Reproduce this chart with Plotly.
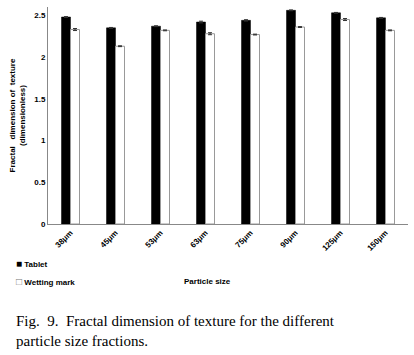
import plotly.graph_objects as go

categories = ["38μm", "45μm", "53μm", "63μm", "75μm", "90μm", "125μm", "150μm"]
tablet = [2.48, 2.35, 2.37, 2.42, 2.44, 2.56, 2.53, 2.47]
tablet_err = [0.005, 0.005, 0.005, 0.01, 0.008, 0.005, 0.005, 0.005]
wetting = [2.33, 2.13, 2.32, 2.28, 2.27, 2.36, 2.45, 2.32]
wetting_err = [0.012, 0.005, 0.005, 0.012, 0.005, 0.005, 0.012, 0.005]

sans = "Arial, Liberation Sans, sans-serif"

fig = go.Figure()
fig.add_trace(go.Bar(
    x=categories, y=tablet, name="Tablet", showlegend=False,
    marker=dict(color="black", line=dict(color="black", width=0.5)),
    error_y=dict(type="data", array=tablet_err, color="#333", thickness=1, width=2),
))
fig.add_trace(go.Bar(
    x=categories, y=wetting, name="Wetting mark", showlegend=False,
    marker=dict(color="white", line=dict(color="#999999", width=1)),
    error_y=dict(type="data", array=wetting_err, color="#333", thickness=1, width=2),
))

fig.update_layout(
    width=414, height=355,
    margin=dict(l=48, r=6, t=7, b=131, autoexpand=False),
    paper_bgcolor="white", plot_bgcolor="white",
    barmode="group", bargap=0.6, bargroupgap=0,
    font=dict(family=sans, size=8, color="black"),
    showlegend=False,
    xaxis=dict(showline=True, linecolor="#888", linewidth=1, tickangle=-45,
               ticks="", automargin=False,
               tickfont=dict(family=sans, size=8, weight="bold")),
    yaxis=dict(range=[0, 2.6], dtick=0.5, tick0=0, showgrid=False, showline=True,
               linecolor="#888", linewidth=1, ticks="", zeroline=False, automargin=False,
               tickformat="~g",
               tickfont=dict(family=sans, size=8, weight="bold"),
               title=dict(text="<b>Fractal   dimension of  texture<br>(dimensionless)</b>",
                          font=dict(size=8), standoff=7)),
    annotations=[
        dict(text="<span style='font-size:10px'>■</span><b> Tablet</b>", xref="paper", yref="paper",
             x=-0.095, y=-0.18, xanchor="left", yanchor="middle", showarrow=False,
             font=dict(family=sans, size=8, color="black")),
        dict(text="<span style='font-size:10px;color:#777'>□</span><b> Wetting mark</b>", xref="paper",
             yref="paper", x=-0.095, y=-0.263, xanchor="left", yanchor="middle", showarrow=False,
             font=dict(family=sans, size=8, color="black")),
        dict(text="<b>Particle size</b>", xref="paper", yref="paper", x=0.444, y=-0.263,
             xanchor="center", yanchor="middle", showarrow=False,
             font=dict(family=sans, size=8, color="black")),
        dict(text="Fig.  9.  Fractal dimension of texture for the different<br>particle size fractions.",
             xref="paper", yref="paper", x=-0.095, y=-0.40, xanchor="left", yanchor="top",
             align="left", showarrow=False,
             font=dict(family="Liberation Serif, serif", size=15, color="black")),
    ],
)
fig.write_html("out.html", config={"displayModeBar": False},
               post_script="document.body.style.margin='0';")
